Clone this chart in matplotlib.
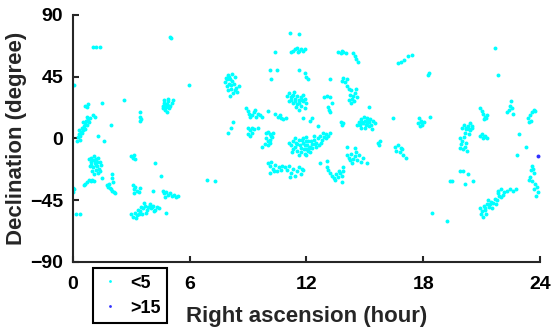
import matplotlib.pyplot as plt
from matplotlib.lines import Line2D

plt.rcParams.update(
    {
        "font.family": ["Liberation Sans", "DejaVu Sans"],
        "font.weight": "bold",
        "axes.labelweight": "bold",
    }
)

# %% Data  (right ascension [h], declination [deg])

# objects in the "<5" group
low_pts = [
    # near RA 0
    (0.25, 1), (0.3, 3), (0.35, 2), (0.4, 5), (0.3, 6), (0.45, 8), (0.5, 6), (0.55, 9),
    (0.6, 11), (0.5, 12), (0.65, 13), (0.7, 10), (0.75, 14), (0.8, 12), (0.35, -1),
    (0.45, 4), (0.6, 7), (0.85, 15), (0.7, 16), (0.2, -2),
    (0.6, 24), (0.7, 23), (0.75, 25), (1.03, 67), (1.2, 67), (1.38, 67), (0.05, 39),
    (1.5, 26), (2.6, 28), (1.13, 16), (1.95, 10), (1.05, 17),
    (3.44, 13), (3.42, 16), (3.46, 19), (3.5, 14),
    (4.6, 24), (4.7, 26), (4.8, 23), (4.85, 25), (4.9, 27), (4.75, 21), (4.95, 22),
    (5.0, 24), (4.7, 28), (4.85, 19), (5.1, 26), (4.65, 22), (4.9, 29), (5.14, 28),
    (4.8, 25), (4.95, 24),
    (4.99, 74), (5.05, 73), (5.96, 39),
    # RA 8 north
    (7.85, 44), (7.95, 46), (8.05, 43), (8.15, 47), (8.0, 40), (7.9, 38), (7.8, 41),
    (8.1, 36), (8.2, 33), (8.3, 35), (8.4, 37), (8.55, 38), (8.25, 40), (8.35, 45),
    (8.05, 31), (7.95, 35), (8.45, 34), (8.15, 42), (7.9, 43), (8.0, 45), (8.1, 39),
    (7.97, 4), (8.2, 12), (8.1, 8),
    # RA 1 south
    (0.8, -15), (0.9, -14), (1.0, -16), (1.1, -13), (1.2, -15), (1.3, -14), (1.4, -17),
    (0.95, -19), (1.05, -21), (1.15, -18), (1.25, -20), (1.35, -22), (1.45, -19),
    (1.0, -24), (1.2, -23), (1.3, -25), (0.85, -20), (1.1, -26), (1.4, -24), (1.25, -17),
    (1.1, -16), (1.2, -19), (0.9, -17),
    (1.3, 1.5), (1.6, -1.5), (3.1, -14), (3.0, -13), (3.2, -15), (3.15, -12),
    (4.2, -17.5), (4.5, -27),
    (0.7, -32), (0.8, -30), (0.9, -31), (1.0, -30), (1.1, -31), (0.6, -33), (0.55, -34),
    (1.5, -29), (2.0, -26), (2.0, -29), (2.05, -32),
    (1.75, -34), (1.8, -35), (1.9, -36), (1.95, -37), (2.0, -38), (2.1, -39), (2.15, -40),
    (1.85, -33), (0.0, -36), (0.05, -37), (0.0, -39),
    (3.1, -34), (3.2, -35), (3.15, -37), (3.3, -38), (3.4, -39), (3.45, -36), (3.15, -40),
    (4.1, -38.6),
    (4.6, -38), (4.7, -40), (4.8, -39), (4.9, -41), (5.0, -40), (5.1, -42), (5.2, -41),
    (5.3, -43), (4.75, -43), (5.4, -42),
    (0.15, -55), (0.35, -55),
    (3.0, -55), (3.1, -57), (3.2, -54), (3.3, -56), (3.35, -52), (3.45, -53), (3.5, -50),
    (3.6, -51), (3.7, -49), (3.8, -52), (3.9, -50), (4.0, -51), (4.1, -49), (4.2, -52),
    (4.3, -50), (3.95, -48), (3.75, -54), (3.55, -55), (4.15, -53), (3.25, -58),
    (4.4, -51), (3.65, -47), (4.8, -54), (3.85, -50), (4.05, -50), (3.4, -55),
    (6.9, -30.6), (7.3, -31),
    # RA 10-15 north
    (11.16, 77), (11.6, 76),
    (11.3, 64), (11.4, 65), (11.5, 66), (11.6, 64), (11.7, 65), (11.8, 64), (11.9, 65),
    (11.55, 63), (11.2, 63), (10.4, 63),
    (13.6, 63), (13.75, 62), (13.9, 63), (14.05, 62), (13.8, 64),
    (14.4, 62), (14.5, 60), (14.55, 58), (14.65, 56),
    (10.1, 49.6), (10.5, 50), (10.2, 43), (11.6, 50), (11.9, 48), (12.0, 45), (12.1, 43),
    (13.2, 43), (13.8, 42), (13.9, 44), (14.0, 41), (14.1, 43),
    (14.1, 38), (14.2, 36), (14.3, 35), (14.25, 32), (14.4, 31), (14.5, 33), (14.35, 29),
    (14.45, 27), (14.6, 30), (14.2, 28), (14.55, 36), (14.3, 26),
    (11.0, 31), (11.1, 33), (11.2, 30), (11.3, 32), (11.4, 29), (11.5, 31), (11.6, 28),
    (11.7, 30), (11.8, 27), (11.9, 29), (11.1, 27), (11.3, 26), (11.5, 25), (11.7, 24),
    (11.9, 22), (11.6, 21), (11.2, 28), (11.45, 23), (11.8, 32), (12.0, 26), (11.35, 34),
    (11.4, 27), (11.6, 26), (11.25, 31), (11.75, 28),
    (12.9, 30), (13.05, 31), (13.2, 30), (13.1, 23), (13.15, 21), (13.2, 19), (13.3, 26),
    (8.9, 22), (9.0, 20), (9.05, 18), (9.2, 17), (9.3, 19), (9.4, 16), (9.5, 18),
    (9.6, 17), (9.7, 16), (9.1, 16), (9.35, 21),
    (10.0, 20), (10.4, 17.5), (10.55, 16), (10.7, 15), (10.8, 14), (10.95, 15), (10.65, 17),
    (11.8, 15), (12.2, 13), (12.3, 15), (9.2, 8), (9.5, 8), (12.6, 9),
    (13.8, 10), (13.9, 11), (13.75, 12), (15.2, 22.6),
    (14.6, 10), (14.7, 12), (14.8, 14), (14.9, 11), (15.0, 13), (15.1, 15), (15.2, 12),
    (15.3, 10), (15.4, 13), (15.5, 11), (14.8, 8), (15.0, 8), (15.2, 9), (15.35, 7),
    (14.95, 16), (15.1, 11), (14.75, 10), (15.25, 14), (14.85, 12), (15.05, 10),
    (15.15, 13),
    # RA 9-13 equator
    (9.0, 8), (9.1, 6), (9.2, 4), (9.1, 2), (9.3, 7), (9.0, 3),
    (9.9, 4), (10.0, 5), (10.1, 3), (10.2, 2), (10.3, 4), (9.9, 0), (10.0, -2), (10.1, -1),
    (9.85, -4), (10.0, -5), (10.15, -3), (9.7, -6.5), (10.25, 1),
    (11.1, -3), (11.2, -5), (11.3, -2), (11.4, -6), (11.5, -4), (11.6, -1), (11.7, -7),
    (11.8, -3), (11.9, -5), (12.0, -8), (12.1, -2), (12.2, -6), (12.3, -4), (12.4, -1),
    (12.5, -3), (12.6, 0), (12.7, 2), (12.8, -1), (12.9, 1), (13.0, 3), (13.1, 2),
    (13.2, 4), (11.5, -9), (11.7, -10), (11.9, -11), (12.1, -9), (12.3, -7), (11.6, -12),
    (12.0, -12), (11.3, -8), (11.8, 0), (12.2, -10), (11.4, 0), (12.0, 1), (12.5, -6),
    (12.75, -3), (13.0, 0), (12.85, 4), (12.4, 2), (11.25, -10), (11.95, -2), (12.65, -5),
    (11.65, -5), (11.85, -8), (12.05, -5), (12.25, -2), (11.45, -3), (12.15, -7),
    (11.75, -1), (12.45, -4),
    (15.7, -3), (15.75, -5), (14.1, -6.5), (14.5, -7),
    (14.1, -12), (14.2, -14), (14.3, -11), (14.4, -15), (14.5, -13), (14.6, -16),
    (14.7, -12), (14.8, -17), (14.9, -14), (14.35, -18), (14.55, -10), (14.25, -16),
    (15.1, -17.5),
    (10.0, -18), (10.1, -20), (10.2, -17), (10.3, -22), (10.4, -19), (10.5, -24),
    (10.6, -21), (10.7, -23), (10.15, -25), (10.35, -24), (10.75, -20),
    (10.9, -21), (11.0, -23), (11.1, -20), (11.2, -25), (11.3, -22), (11.5, -24),
    (11.6, -21), (11.7, -26), (11.8, -23), (11.15, -28), (11.4, -27), (11.75, -22),
    (12.7, -17.5), (13.05, -16.5), (13.05, -21), (13.1, -23), (13.2, -25),
    (13.3, -27), (13.4, -29), (13.5, -26), (13.6, -28), (13.7, -25), (13.8, -27),
    (13.9, -24), (13.45, -30), (13.65, -24), (13.8, -32), (13.9, -21),
    # RA 16-24
    (16.7, 55), (16.85, 56), (17.0, 57), (17.2, 60), (17.4, 61),
    (18.25, 46.6), (18.3, 47.5), (21.7, 66), (21.85, 46), (16.45, 14.6),
    (17.8, 15), (17.9, 13), (17.75, 11), (17.95, 10), (18.05, 12), (17.85, 9), (18.35, 16),
    (20.9, 22), (21.0, 20), (21.05, 18), (21.15, 16), (21.25, 15), (21.1, 14), (21.3, 17),
    (22.5, 27), (22.45, 24), (22.55, 22), (22.3, 19), (22.4, 21), (22.6, 18),
    (23.7, 21), (23.6, 19), (23.5, 17), (23.4, 15), (23.55, 13), (23.45, 12), (23.75, 20),
    (20.4, 11), (20.2, 8), (20.35, 7), (20.5, 9), (17.9, 12),
    (20.0, 8), (20.1, 10), (20.2, 7), (20.3, 9), (20.4, 6), (20.5, 8), (20.15, 4),
    (20.35, 3),
    (19.9, 0), (20.0, -2), (20.1, 1), (19.95, -4), (20.15, -6), (20.05, -8), (20.25, -9),
    (19.9, -7), (20.2, -3),
    (20.9, 2), (21.0, 3), (21.1, 1), (21.2, 2), (21.3, 0), (21.05, 0),
    (22.9, 3), (23.3, -6), (22.8, -12),
    (16.55, -6), (16.7, -5), (16.85, -7), (16.6, -9), (16.8, -10), (16.95, -12),
    (17.1, -14), (16.9, -8), (15.8, -2),
    (23.6, -20), (23.55, -23), (23.7, -25), (23.5, -28), (23.6, -31), (23.75, -33),
    (23.85, -35), (23.7, -37), (23.9, -39), (23.8, -42), (23.45, -30), (23.65, -22),
    (19.9, -24), (20.05, -24), (19.4, -31), (19.5, -31), (20.3, -26), (20.55, -31),
    (20.15, -33.5),
    (21.85, -38), (22.0, -37), (22.15, -39), (22.3, -38), (22.45, -37), (22.6, -38),
    (22.75, -37),
    (20.9, -51), (21.0, -53), (21.1, -49), (21.2, -52), (21.3, -48), (21.4, -50),
    (21.5, -46), (21.6, -47), (21.7, -44), (21.8, -45), (21.9, -42), (22.0, -43),
    (21.25, -55), (21.05, -57), (21.55, -51), (21.75, -48), (22.1, -41), (21.35, -45),
    (20.95, -55), (21.85, -40), (21.15, -51), (21.45, -48),
    (18.45, -54), (19.2, -60),
]

# objects in the ">15" group
high_pts = [(23.9, -12.4)]

ra_low = [p[0] for p in low_pts]
dec_low = [p[1] for p in low_pts]
ra_high = [p[0] for p in high_pts]
dec_high = [p[1] for p in high_pts]

x_ticks = [0, 6, 12, 18, 24]
y_ticks = [-90, -45, 0, 45, 90]
labels = ["<5", ">15"]

# %% Plot

ink = "#262626"
fig = plt.figure(figsize=(5.51, 3.31), dpi=100)
ax = fig.add_axes([0.1325, 0.2085, 0.8475, 0.7462])

ax.scatter(ra_low, dec_low, s=8, color="#00ffff", linewidths=0, zorder=2)
ax.scatter(ra_high, dec_high, s=8, color="#3030ff", linewidths=0, zorder=3)

ax.set_xlim(0, 24)
ax.set_ylim(-90, 90)
ax.set_xticks(x_ticks)
ax.set_yticks(y_ticks)

for side in ["top", "right"]:
    ax.spines[side].set_visible(False)
for side in ["left", "bottom"]:
    ax.spines[side].set_linewidth(1.5)
    ax.spines[side].set_color(ink)

ax.tick_params(direction="in", length=4, width=1.5, color=ink, labelsize=14,
               labelcolor="black")
ax.tick_params(axis="x", pad=10)
ax.tick_params(axis="y", pad=7)

ax.set_xlabel("Right ascension (hour)", fontsize=16, color=ink)
ax.set_ylabel("Declination (degree)", fontsize=16, color=ink)
ax.xaxis.set_label_coords(0.5, -0.222)
ax.xaxis.label.set_va("center")
ax.yaxis.set_label_coords(-0.12, 0.5)
ax.yaxis.label.set_va("center")

handles = [
    Line2D([], [], ls="none", marker="o", ms=2, mew=0, color="#00ffff"),
    Line2D([], [], ls="none", marker="o", ms=2, mew=0, color="#3030ff"),
]
leg = fig.legend(handles, labels, loc="lower left", bbox_to_anchor=(0.169, 0.024),
                 fontsize=13, frameon=True, fancybox=False, framealpha=1,
                 edgecolor="black", handlelength=1.2, handletextpad=0.5,
                 labelspacing=0.45, borderpad=0.35, borderaxespad=0)
leg.get_frame().set_linewidth(1.5)

fig.savefig("out.png", dpi=100)
